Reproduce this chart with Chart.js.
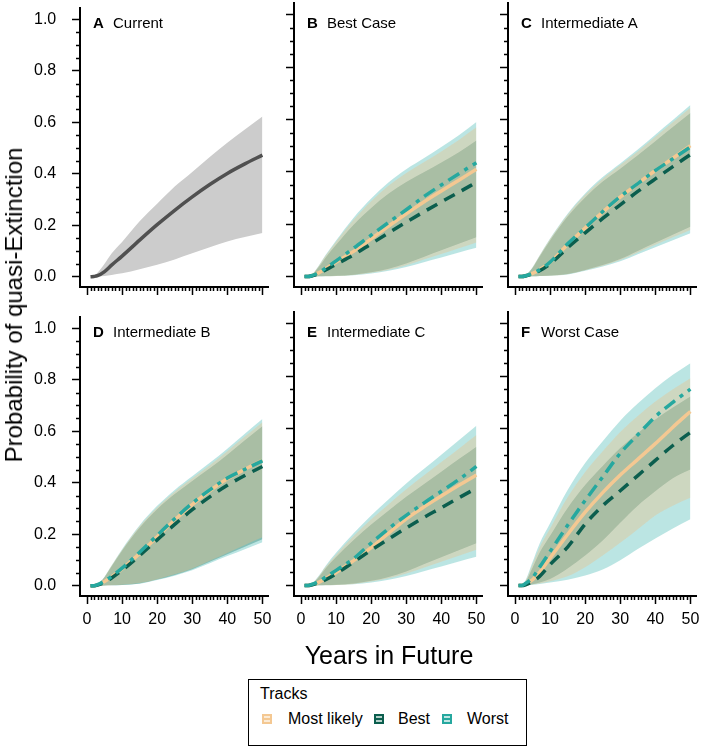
<!DOCTYPE html>
<html>
<head>
<meta charset="utf-8">
<script src="https://cdn.jsdelivr.net/npm/chart.js@4.4.1/dist/chart.umd.min.js"></script>
<style>
  body { margin: 0; background: #fff; }
  #wrap { position: relative; width: 702px; height: 748px; overflow: hidden; background: #fff;
          font-family: Arial, "Liberation Sans", sans-serif; color: #000; }
  canvas { position: absolute; }
  .plab { position: absolute; font-size: 15px; line-height: 16px; white-space: nowrap; }
  .plab.letter { font-weight: bold; }
  #ytitle { position: absolute; left: 14px; top: 305px; font-size: 24px; white-space: nowrap;
            transform: translate(-50%, -50%) rotate(-90deg); }
  #xtitle { position: absolute; left: 389px; top: 655px; font-size: 25px; white-space: nowrap;
            transform: translate(-50%, -50%); }
  #legend { position: absolute; left: 248px; top: 679px; width: 279px; height: 67px;
            box-sizing: border-box; border: 1.5px solid #000; }
  #legend .t { position: absolute; left: 11px; top: 5px; font-size: 16px; }
  #legend .lt { position: absolute; top: 30px; font-size: 16px; white-space: nowrap; }
  #legend .sw { position: absolute; top: 34px; width: 10px; height: 10px; box-sizing: border-box; border: 2px solid; }
  #legend .sw::after { content: ""; position: absolute; left: 0; right: 0; top: 2px; height: 2px; background: currentColor; }
</style>
</head>
<body>
<div id="wrap">
  <div id="ytitle">Probability of quasi-Extinction</div>
  <div id="xtitle">Years in Future</div>
  <div id="legend">
    <div class="t">Tracks</div>
    <div class="sw" style="left:13px;color:#F4C892;background:#FBEBD6"></div>
    <div class="lt" style="left:39px">Most likely</div>
    <div class="sw" style="left:125px;color:#0B5E4E;background:#B3CFC8"></div>
    <div class="lt" style="left:149px">Best</div>
    <div class="sw" style="left:193px;color:#26A89F;background:#C0E6E3"></div>
    <div class="lt" style="left:218px">Worst</div>
  </div>
</div>
<script>
const years = [1, 2, 3, 5, 7, 10, 15, 20, 25, 30, 35, 40, 45, 50];
const xTicks = [0, 10, 20, 30, 40, 50];
const yTicks = [0, 0.2, 0.4, 0.6, 0.8, 1.0];

// A - Current
const aMid = [0, 0.001, 0.004, 0.02, 0.045, 0.08, 0.142, 0.202, 0.258, 0.31, 0.358, 0.401, 0.438, 0.472];
const aLo  = [0, 0, 0.001, 0.003, 0.007, 0.013, 0.029, 0.046, 0.067, 0.091, 0.114, 0.137, 0.154, 0.17];
const aHi  = [0, 0.003, 0.015, 0.05, 0.09, 0.135, 0.215, 0.283, 0.35, 0.407, 0.465, 0.52, 0.572, 0.622];

// B - Best Case
const bMl      = [0, 0, 0.003, 0.014, 0.03, 0.055, 0.096, 0.144, 0.193, 0.24, 0.285, 0.327, 0.368, 0.41];
const bMlLo    = [0, 0, 0, 0.001, 0.001, 0.002, 0.006, 0.014, 0.026, 0.043, 0.065, 0.086, 0.108, 0.13];
const bMlHi    = [0, 0.002, 0.006, 0.039, 0.079, 0.133, 0.217, 0.288, 0.348, 0.396, 0.437, 0.478, 0.522, 0.57];
const bBest    = [0, 0, 0.002, 0.011, 0.025, 0.047, 0.083, 0.125, 0.167, 0.208, 0.247, 0.285, 0.322, 0.36];
const bBestLo  = [0, 0, 0, 0.001, 0.002, 0.003, 0.007, 0.016, 0.03, 0.05, 0.075, 0.1, 0.125, 0.15];
const bBestHi  = [0, 0.002, 0.005, 0.035, 0.072, 0.121, 0.198, 0.262, 0.317, 0.361, 0.398, 0.436, 0.475, 0.52];
const bWorst   = [0, 0, 0.003, 0.015, 0.032, 0.06, 0.108, 0.158, 0.207, 0.255, 0.305, 0.35, 0.393, 0.435];
const bWorstLo = [0, 0, 0, 0.001, 0.001, 0.002, 0.005, 0.012, 0.022, 0.036, 0.055, 0.073, 0.092, 0.11];
const bWorstHi = [0, 0.002, 0.006, 0.04, 0.082, 0.138, 0.225, 0.298, 0.36, 0.41, 0.452, 0.495, 0.54, 0.59];

// C - Intermediate A
const cMl      = [0, 0, 0.003, 0.012, 0.026, 0.054, 0.122, 0.185, 0.246, 0.303, 0.355, 0.405, 0.452, 0.5];
const cMlLo    = [0, 0, 0, 0.001, 0.002, 0.003, 0.009, 0.024, 0.041, 0.063, 0.092, 0.121, 0.15, 0.178];
const cMlHi    = [0, 0.002, 0.005, 0.034, 0.079, 0.143, 0.236, 0.312, 0.374, 0.426, 0.478, 0.534, 0.589, 0.645];
const cBest    = [0, 0, 0.002, 0.01, 0.022, 0.048, 0.11, 0.167, 0.222, 0.274, 0.325, 0.373, 0.42, 0.466];
const cBestLo  = [0, 0, 0, 0.001, 0.002, 0.004, 0.01, 0.025, 0.044, 0.067, 0.098, 0.129, 0.16, 0.19];
const cBestHi  = [0, 0.002, 0.005, 0.033, 0.076, 0.138, 0.229, 0.302, 0.363, 0.412, 0.463, 0.517, 0.571, 0.625];
const cWorst   = [0, 0, 0.003, 0.012, 0.026, 0.055, 0.125, 0.186, 0.248, 0.305, 0.355, 0.405, 0.45, 0.495];
const cWorstLo = [0, 0, 0, 0.001, 0.002, 0.003, 0.008, 0.022, 0.038, 0.058, 0.085, 0.112, 0.139, 0.165];
const cWorstHi = [0, 0.002, 0.005, 0.035, 0.08, 0.145, 0.24, 0.317, 0.38, 0.432, 0.485, 0.542, 0.598, 0.655];

// D - Intermediate B
const dMl      = [0, 0, 0.003, 0.016, 0.034, 0.065, 0.125, 0.19, 0.255, 0.315, 0.368, 0.415, 0.452, 0.487];
const dMlLo    = [0, 0, 0, 0.001, 0.002, 0.004, 0.01, 0.025, 0.044, 0.067, 0.097, 0.127, 0.158, 0.188];
const dMlHi    = [0, 0.002, 0.005, 0.034, 0.077, 0.139, 0.231, 0.304, 0.365, 0.417, 0.468, 0.522, 0.579, 0.635];
const dBest    = [0, 0, 0.002, 0.013, 0.03, 0.06, 0.117, 0.178, 0.238, 0.295, 0.345, 0.39, 0.428, 0.463];
const dBestLo  = [0, 0, 0, 0.001, 0.002, 0.003, 0.009, 0.024, 0.042, 0.064, 0.093, 0.122, 0.151, 0.18];
const dBestHi  = [0, 0.002, 0.005, 0.033, 0.075, 0.136, 0.225, 0.297, 0.356, 0.407, 0.456, 0.509, 0.565, 0.619];
const dWorst   = [0, 0, 0.004, 0.018, 0.036, 0.068, 0.13, 0.195, 0.26, 0.32, 0.372, 0.418, 0.452, 0.485];
const dWorstLo = [0, 0, 0, 0.001, 0.002, 0.003, 0.008, 0.022, 0.039, 0.06, 0.087, 0.115, 0.142, 0.169];
const dWorstHi = [0, 0.002, 0.005, 0.035, 0.078, 0.142, 0.235, 0.31, 0.372, 0.425, 0.477, 0.532, 0.59, 0.647];

// E - Intermediate C
const eMl      = [0, 0, 0.003, 0.012, 0.027, 0.05, 0.095, 0.145, 0.2, 0.255, 0.3, 0.342, 0.383, 0.422];
const eMlLo    = [0, 0, 0, 0.001, 0.001, 0.002, 0.006, 0.015, 0.028, 0.046, 0.068, 0.091, 0.114, 0.137];
const eMlHi    = [0, 0.002, 0.006, 0.034, 0.071, 0.118, 0.189, 0.253, 0.311, 0.368, 0.42, 0.472, 0.523, 0.575];
const eBest    = [0, 0, 0.002, 0.01, 0.022, 0.045, 0.09, 0.135, 0.178, 0.22, 0.26, 0.297, 0.335, 0.372];
const eBestLo  = [0, 0, 0, 0.001, 0.002, 0.003, 0.008, 0.018, 0.033, 0.054, 0.081, 0.108, 0.135, 0.162];
const eBestHi  = [0, 0.002, 0.005, 0.031, 0.065, 0.109, 0.174, 0.233, 0.287, 0.339, 0.387, 0.435, 0.483, 0.53];
const eWorst   = [0, 0, 0.004, 0.015, 0.032, 0.058, 0.103, 0.162, 0.218, 0.268, 0.315, 0.36, 0.405, 0.455];
const eWorstLo = [0, 0, 0, 0.001, 0.001, 0.002, 0.005, 0.012, 0.022, 0.036, 0.055, 0.073, 0.092, 0.11];
const eWorstHi = [0, 0.002, 0.006, 0.036, 0.075, 0.125, 0.2, 0.268, 0.33, 0.39, 0.445, 0.5, 0.555, 0.61];

// F - Worst Case
const fMl      = [0, 0, 0.005, 0.022, 0.05, 0.105, 0.195, 0.28, 0.355, 0.422, 0.482, 0.542, 0.605, 0.665];
const fMlLo    = [0, 0, 0.001, 0.004, 0.008, 0.016, 0.035, 0.07, 0.115, 0.163, 0.215, 0.268, 0.305, 0.335];
const fMlHi    = [0, 0.004, 0.017, 0.08, 0.145, 0.218, 0.337, 0.434, 0.513, 0.587, 0.648, 0.703, 0.75, 0.792];
const fBest    = [0, 0, 0.003, 0.015, 0.035, 0.08, 0.147, 0.235, 0.305, 0.362, 0.42, 0.478, 0.535, 0.585];
const fBestLo  = [0, 0, 0.001, 0.005, 0.012, 0.025, 0.065, 0.115, 0.172, 0.24, 0.305, 0.36, 0.41, 0.443];
const fBestHi  = [0, 0.003, 0.014, 0.068, 0.125, 0.19, 0.296, 0.384, 0.457, 0.525, 0.582, 0.634, 0.68, 0.722];
const fWorst   = [0, 0, 0.008, 0.03, 0.07, 0.13, 0.23, 0.325, 0.415, 0.505, 0.576, 0.645, 0.7, 0.75];
const fWorstLo = [0, 0, 0.001, 0.003, 0.006, 0.012, 0.022, 0.038, 0.061, 0.097, 0.14, 0.18, 0.218, 0.253];
const fWorstHi = [0, 0.005, 0.02, 0.09, 0.16, 0.238, 0.365, 0.468, 0.551, 0.63, 0.695, 0.754, 0.805, 0.849];

const lineColors = { ml: "#F4C892", best: "#0B5E4E", worst: "#26A89F" };
const bandColors = { ml: "rgba(240,190,130,0.35)", best: "rgba(0,100,78,0.3)", worst: "rgba(60,180,175,0.35)" };
const dashes = { ml: [], best: [12, 8], worst: [13, 6, 4, 6] };
const lineOrder = { worst: 0, best: 1, ml: 2 };

const panels = [
  { letter: "A", title: "Current", col: 0, row: 0, current: [aMid, aLo, aHi] },
  { letter: "B", title: "Best Case", col: 1, row: 0,
    ml: [bMl, bMlLo, bMlHi], best: [bBest, bBestLo, bBestHi], worst: [bWorst, bWorstLo, bWorstHi] },
  { letter: "C", title: "Intermediate A", col: 2, row: 0,
    ml: [cMl, cMlLo, cMlHi], best: [cBest, cBestLo, cBestHi], worst: [cWorst, cWorstLo, cWorstHi] },
  { letter: "D", title: "Intermediate B", col: 0, row: 1,
    ml: [dMl, dMlLo, dMlHi], best: [dBest, dBestLo, dBestHi], worst: [dWorst, dWorstLo, dWorstHi] },
  { letter: "E", title: "Intermediate C", col: 1, row: 1,
    ml: [eMl, eMlLo, eMlHi], best: [eBest, eBestLo, eBestHi], worst: [eWorst, eWorstLo, eWorstHi] },
  { letter: "F", title: "Worst Case", col: 2, row: 1,
    ml: [fMl, fMlLo, fMlHi], best: [fBest, fBestLo, fBestHi], worst: [fWorst, fWorstLo, fWorstHi] }
];

// plot area geometry
const areaLeft = [80, 294, 508];
const areaTop = [3, 312];
const padLeft = 14, yAxisW = 46, xAxisH = 40, padTop = 10, padRight = 12;
const areaW = 188, areaH = 284;

Chart.defaults.font.family = 'Arial, "Liberation Sans", sans-serif';
Chart.defaults.color = "#000";

const pts = arr => arr.map((v, i) => ({ x: years[i], y: v }));

function lineDs(vals, color, width, dash, order) {
  return { data: pts(vals), borderColor: color, borderWidth: width, borderDash: dash,
           pointRadius: 0, fill: false, order: order, cubicInterpolationMode: "monotone" };
}
function bandDs(lo, hi, color) {
  return [
    { data: pts(lo), borderWidth: 0, borderColor: "transparent", pointRadius: 0, fill: false,
      order: 5, cubicInterpolationMode: "monotone" },
    { data: pts(hi), borderWidth: 0, borderColor: "transparent", pointRadius: 0, fill: "-1",
      backgroundColor: color, order: 5, cubicInterpolationMode: "monotone" }
  ];
}

// short minor ticks every year and every 0.05
const minorTicks = {
  id: "minorTicks",
  afterDraw(chart) {
    const { ctx, chartArea, scales } = chart;
    ctx.save();
    ctx.strokeStyle = "#000";
    ctx.lineWidth = 1.5;
    ctx.beginPath();
    for (let v = 1; v < 50; v++) {
      if (v % 10 === 0) continue;
      const px = Math.round(scales.x.getPixelForValue(v)) + 0.5;
      ctx.moveTo(px, chartArea.bottom);
      ctx.lineTo(px, chartArea.bottom + 4);
    }
    for (let k = 1; k < 20; k++) {
      if (k % 4 === 0) continue;
      const py = Math.round(scales.y.getPixelForValue(k * 0.05)) + 0.5;
      ctx.moveTo(chartArea.left, py);
      ctx.lineTo(chartArea.left - 4, py);
    }
    ctx.stroke();
    ctx.restore();
  }
};

const wrap = document.getElementById("wrap");

panels.forEach(p => {
  const canvas = document.createElement("canvas");
  const w = padLeft + yAxisW + areaW + padRight, h = padTop + areaH + xAxisH;
  canvas.width = w;
  canvas.height = h;
  canvas.style.width = w + "px";
  canvas.style.height = h + "px";
  canvas.style.left = (areaLeft[p.col] - yAxisW - padLeft) + "px";
  canvas.style.top = (areaTop[p.row] - padTop) + "px";
  wrap.insertBefore(canvas, wrap.firstChild);

  let datasets = [];
  if (p.current) {
    datasets.push(lineDs(p.current[0], "#505050", 3.5, [], 0));
    datasets = datasets.concat(bandDs(p.current[1], p.current[2], "#CCCCCC"));
  } else {
    ["ml", "best", "worst"].forEach(k => {
      datasets.push(lineDs(p[k][0], lineColors[k], 3.5, dashes[k], lineOrder[k]));
    });
    ["ml", "best", "worst"].forEach(k => {
      datasets = datasets.concat(bandDs(p[k][1], p[k][2], bandColors[k]));
    });
  }

  const axisGrid = { display: true, drawOnChartArea: false, drawTicks: true, tickLength: 8,
                     tickWidth: 1.5, tickColor: "#000" };
  const axisBorder = { display: true, color: "#000", width: 2 };

  new Chart(canvas, {
    type: "line",
    data: { datasets: datasets },
    options: {
      responsive: false,
      animation: false,
      devicePixelRatio: 1,
      layout: { padding: { left: padLeft, top: padTop, right: padRight, bottom: 0 } },
      plugins: { legend: { display: false }, tooltip: { enabled: false } },
      scales: {
        x: {
          type: "linear", min: -2, max: 51.6,
          afterBuildTicks: s => { s.ticks = xTicks.map(v => ({ value: v })); },
          afterFit: s => { s.height = xAxisH; },
          ticks: { display: p.row === 1, font: { size: 16 }, padding: 6, maxRotation: 0, autoSkip: false },
          grid: axisGrid, border: axisBorder
        },
        y: {
          type: "linear", min: -0.04, max: 1.045,
          afterBuildTicks: s => { s.ticks = yTicks.map(v => ({ value: v })); },
          afterFit: s => { s.width = yAxisW; },
          ticks: { display: p.col === 0, font: { size: 16 }, padding: 5, crossAlign: "far",
                   callback: v => Number(v).toFixed(1) },
          grid: axisGrid, border: axisBorder
        }
      }
    },
    plugins: [minorTicks]
  });

  const l = document.createElement("div");
  l.className = "plab letter";
  l.textContent = p.letter;
  l.style.left = (areaLeft[p.col] + 13) + "px";
  l.style.top = (areaTop[p.row] + 12) + "px";
  wrap.appendChild(l);
  const t = document.createElement("div");
  t.className = "plab";
  t.textContent = p.title;
  t.style.left = (areaLeft[p.col] + 33) + "px";
  t.style.top = (areaTop[p.row] + 12) + "px";
  wrap.appendChild(t);
});
</script>
</body>
</html>
